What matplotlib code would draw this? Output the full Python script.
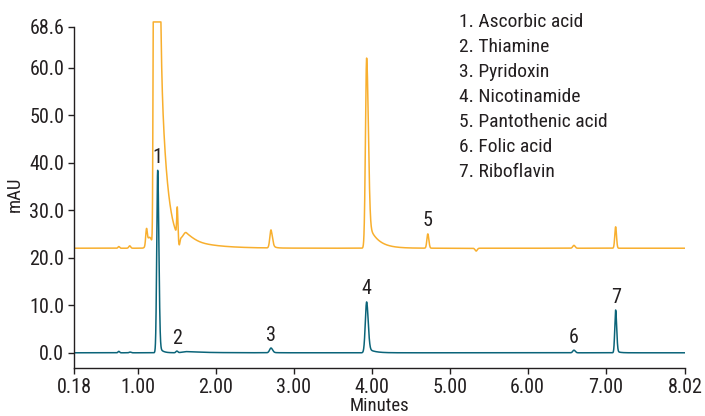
import matplotlib

matplotlib.use("Agg")
import matplotlib.pyplot as plt
import numpy as np

# --- peak tables (minutes, mAU above baseline) ---
TEAL_BASE = 0.0
TEAL_RT = [0.755, 0.90, 1.254, 1.50, 1.62, 2.708, 3.935, 6.595, 7.13]
TEAL_HEIGHT = [0.3, 0.15, 38.4, 0.35, 0.25, 1.0, 10.7, 0.55, 9.0]
TEAL_SIG_L = [0.010, 0.012, 0.012, 0.012, 0.05, 0.018, 0.017, 0.015, 0.011]
TEAL_SIG_R = [0.010, 0.012, 0.015, 0.012, 0.15, 0.020, 0.020, 0.017, 0.013]
TEAL_TAIL = [0.0, 0.0, 0.05, 0.0, 0.6, 0.1, 0.10, 0.0, 0.05]
TEAL_TAU = [0.05, 0.05, 0.04, 0.05, 0.35, 0.05, 0.08, 0.05, 0.04]

ORANGE_BASE = 22.0
ORANGE_RT = [0.755, 0.895, 1.11, 1.15, 1.215, 1.505, 1.53, 1.62, 2.708, 3.935, 4.72, 5.34, 6.595, 7.13]
ORANGE_HEIGHT = [0.35, 0.5, 3.2, 2.3, 400.0, 5.8, -1.6, 2.6, 3.8, 40.0, 3.0, -0.6, 0.6, 4.5]
ORANGE_SIG_L = [0.010, 0.012, 0.010, 0.03, 0.010, 0.007, 0.009, 0.04, 0.015, 0.015, 0.012, 0.014, 0.015, 0.011]
ORANGE_SIG_R = [0.010, 0.012, 0.010, 0.03, 0.030, 0.007, 0.009, 0.10, 0.018, 0.022, 0.013, 0.014, 0.015, 0.011]
ORANGE_TAIL = [0.0, 0.0, 0.0, 0.0, 0.27, 0.0, 0.0, 0.8, 0.3, 0.15, 0.0, 0.0, 0.0, 0.0]
ORANGE_TAU = [0.05, 0.05, 0.05, 0.05, 0.08, 0.05, 0.05, 0.30, 0.03, 0.12, 0.05, 0.05, 0.05, 0.05]
ORANGE_CLIP = 69.6

# labelled peaks: number, retention time, trace
LABEL_NUM = ["1", "2", "3", "4", "5", "6", "7"]
LABEL_RT = [1.254, 1.50, 2.708, 3.935, 4.72, 6.595, 7.13]
LABEL_TRACE = ["teal", "teal", "teal", "teal", "orange", "teal", "teal"]

COMPOUNDS = [
    "1. Ascorbic acid",
    "2. Thiamine",
    "3. Pyridoxin",
    "4. Nicotinamide",
    "5. Pantothenic acid",
    "6. Folic acid",
    "7. Riboflavin",
]

X_TICKS = [0.18, 1.0, 2.0, 3.0, 4.0, 5.0, 6.0, 7.0, 8.02]
Y_TICKS = [0.0, 10.0, 20.0, 30.0, 40.0, 50.0, 60.0, 68.6]

TEAL = "#0B6479"
ORANGE = "#F8AF2E"
TEXT = "#231F20"
FS = 14.5


def peak(x, rt, h, sl, sr, tail, tau):
    d = x - rt
    left = np.exp(-0.5 * (d / sl) ** 2)
    dp = np.clip(d, 0, None)
    right = (1 - tail) * np.exp(-0.5 * (dp / sr) ** 2) + tail * np.exp(-dp / tau)
    return h * np.where(d < 0, left, right)


def trace(x, base, rts, hs, sls, srs, tails, taus):
    y = np.full_like(x, base)
    for p in zip(rts, hs, sls, srs, tails, taus):
        y += peak(x, *p)
    return y


plt.rcParams["font.family"] = ["Roboto Condensed", "DejaVu Sans"]

x = np.linspace(0.18, 8.02, 12000)
teal = trace(x, TEAL_BASE, TEAL_RT, TEAL_HEIGHT, TEAL_SIG_L, TEAL_SIG_R, TEAL_TAIL, TEAL_TAU)
orange = trace(x, ORANGE_BASE, ORANGE_RT, ORANGE_HEIGHT, ORANGE_SIG_L, ORANGE_SIG_R, ORANGE_TAIL, ORANGE_TAU)
orange = np.minimum(orange, ORANGE_CLIP)

W, H = 705, 416
fig = plt.figure(figsize=(W / 100, H / 100), dpi=100)
ax = fig.add_axes([74 / W, 48 / H, 611 / W, (368 - 21) / H])

ax.plot(x, orange, color=ORANGE, lw=1.1)
ax.plot(x, teal, color=TEAL, lw=1.1)

traces = {"teal": teal, "orange": orange}
for num, rt, tr in zip(LABEL_NUM, LABEL_RT, LABEL_TRACE):
    yy = traces[tr]
    i = np.argmin(np.abs(x - rt))
    win = slice(max(i - 20, 0), i + 20)
    ax.annotate(num, (rt, yy[win].max()), xytext=(0, 13), textcoords="offset pixels",
                ha="center", va="center", fontsize=FS, color=TEXT)

for k, name in enumerate(COMPOUNDS):
    fig.text(459 / W, 1 - (22 + 25 * k) / H, name, ha="left", va="center",
             fontsize=14, color=TEXT)

ax.set_xlim(0.18, 8.02)
ax.set_ylim(-3.2, 69.8)
ax.set_xticks(X_TICKS)
ax.set_xticklabels([f"{v:.2f}" for v in X_TICKS])
ax.set_yticks(Y_TICKS)
ax.set_yticklabels([f"{v:.1f}" for v in Y_TICKS])
ax.spines["top"].set_visible(False)
ax.spines["right"].set_visible(False)
ax.spines["left"].set_bounds(-3.2, 68.6)
for s in ("left", "bottom"):
    ax.spines[s].set_color(TEXT)
    ax.spines[s].set_linewidth(1.0)
ax.tick_params(direction="out", length=4, width=1.0, colors=TEXT, labelsize=FS, pad=3)
ax.set_xlabel("Minutes", fontsize=13.5, color=TEXT, labelpad=0)
ax.set_ylabel("mAU", fontsize=13.5, color=TEXT, labelpad=4)

fig.savefig("out.png", dpi=100)
